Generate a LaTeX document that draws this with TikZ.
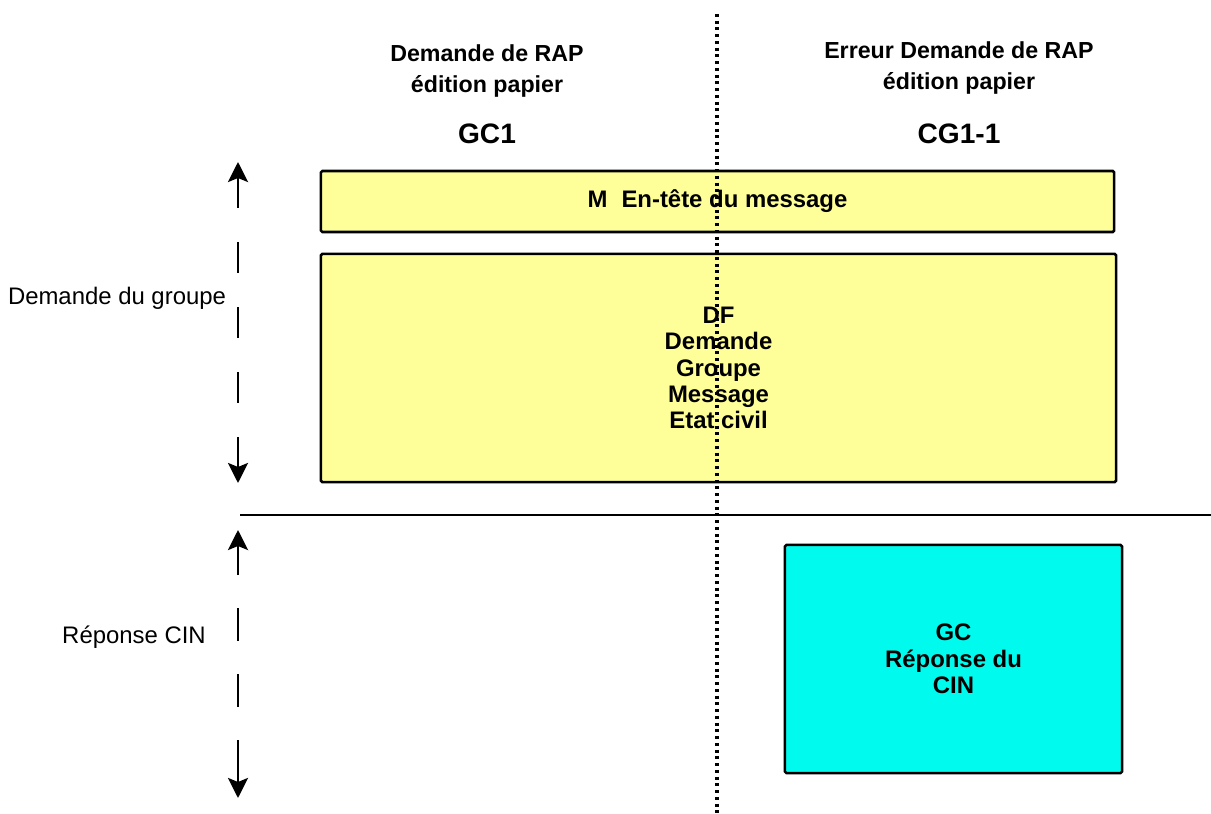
\documentclass[tikz,border=0pt]{standalone}
\usepackage{fontspec}
\setmainfont{Liberation Sans}
\usetikzlibrary{arrows.meta}
\definecolor{paleyellow}{RGB}{255,255,153}
\definecolor{brightcyan}{RGB}{0,250,238}
\tikzset{title/.style = {align=center, font=\fontsize{16.5}{21.5}\selectfont\bfseries}}
\tikzset{code/.style = {align=center, font=\fontsize{20}{22}\selectfont\bfseries}}
\tikzset{block/.style = {draw, line width=1.8pt, rounded corners=1pt, align=center, font=\fontsize{17}{18.7}\selectfont\bfseries}}
\tikzset{side/.style = {align=center, font=\fontsize{17}{20}\selectfont}}
\tikzset{span tip/.style = {line width=2pt, -{Stealth[length=5mm, width=5mm, inset=1mm]}}}
\tikzset{span dash/.style = {line width=2pt}}
\tikzset{divider/.style = {line width=2.2pt, dash pattern=on 2pt off 2.8pt}}

\begin{document}
\begin{tikzpicture}[x=0.025cm, y=-0.025cm]
			\useasboundingbox (0,0) rectangle (1211,814);
			% Titles
			\node [title] (gc1-title) at (487,71) {Demande de RAP\\édition papier};
			\node [code] (gc1) at (487,134) {GC1};
			\node [title] (cg1-title) at (959,68) {Erreur Demande de RAP\\édition papier};
			\node [code] (cg1) at (959,134) {CG1-1};
			% Message header
			\node [block, fill=paleyellow, minimum width=19.825cm, minimum height=1.525cm] (header) at (717.5,201.5) {M\hspace{0.35cm}En-tête du message};
			% Group request
			\node [block, fill=paleyellow, minimum width=19.875cm, minimum height=5.7cm] (request) at (718.5,368) {DF\\Demande\\Groupe\\Message\\Etat civil};
			% CIN answer
			\node [block, fill=brightcyan, minimum width=8.425cm, minimum height=5.7cm] (answer) at (953.5,659) {GC\\Réponse du\\CIN};
			% Split line
			\coordinate (split-l) at (240,515);
			\coordinate (split-r) at (1211,515);
			\draw [line width=2pt] (split-l) -- (split-r);
			% Demande du groupe span
			\node [side] (request-lbl) at (117,298) {Demande du groupe};
			\coordinate (rq-top) at (238,162);
			\coordinate (rq-a) at (238,208);
			\coordinate (rq-b) at (238,242);
			\coordinate (rq-c) at (238,403);
			\coordinate (rq-d) at (238,437);
			\coordinate (rq-bot) at (238,483);
			\draw [span tip] (rq-a) -- (rq-top);
			\draw [span dash, dash pattern=on 0.775cm off 0.85cm] (rq-b) -- (rq-c);
			\draw [span tip] (rq-d) -- (rq-bot);
			% Reponse CIN span
			\node [side] (answer-lbl) at (134,637) {Réponse CIN};
			\coordinate (an-top) at (238,530);
			\coordinate (an-a) at (238,575);
			\coordinate (an-b) at (238,608);
			\coordinate (an-c) at (238,707);
			\coordinate (an-d) at (238,740);
			\coordinate (an-bot) at (238,798);
			\draw [span tip] (an-a) -- (an-top);
			\draw [span dash, dash pattern=on 0.825cm off 0.825cm] (an-b) -- (an-c);
			\draw [span tip] (an-d) -- (an-bot);
			% Dotted divider
			\coordinate (div-top) at (717,14);
			\coordinate (div-bot) at (717,814);
			\draw [divider] (div-top) -- (div-bot);
		\end{tikzpicture}
\end{document}
